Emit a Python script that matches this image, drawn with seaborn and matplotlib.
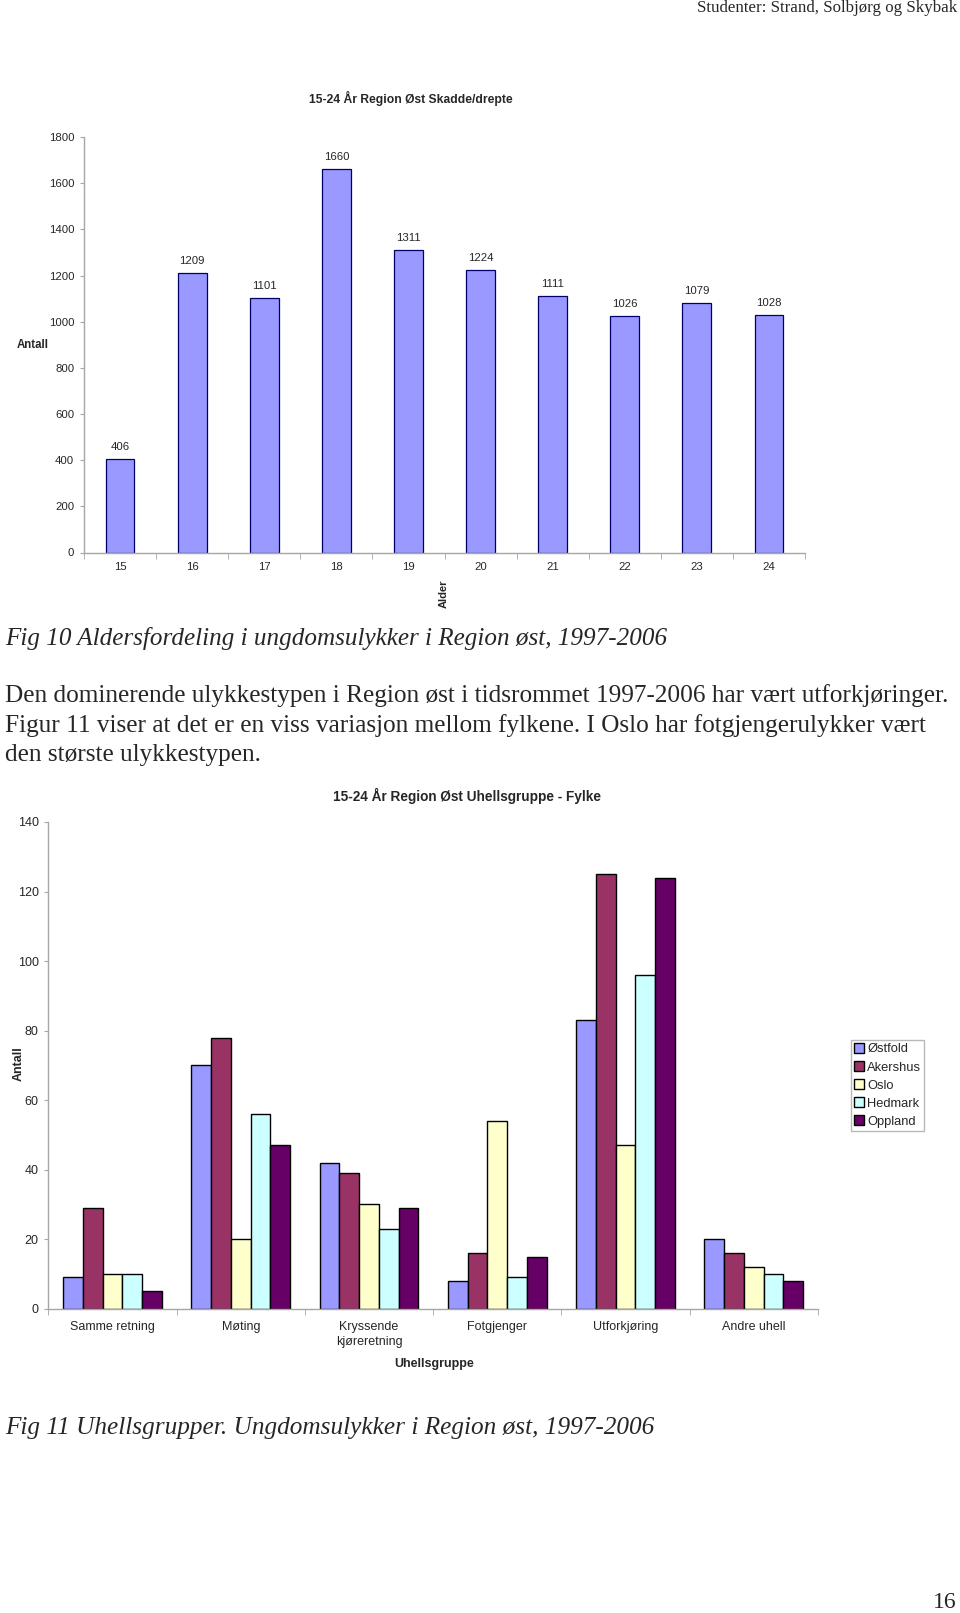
import numpy as np
import pandas as pd
import matplotlib.pyplot as plt
import seaborn as sns
from matplotlib.patches import Patch
from matplotlib.ticker import FixedLocator

# Fig 10 data: injured/killed per age
ages = ['15', '16', '17', '18', '19', '20', '21', '22', '23', '24']
injured = [406, 1209, 1101, 1660, 1311, 1224, 1111, 1026, 1079, 1028]

# Fig 11 data: accident group per county
groups = ['Samme retning', 'Møting', 'Kryssende\nkjøreretning', 'Fotgjenger', 'Utforkjøring', 'Andre uhell']
counties = ['Østfold', 'Akershus', 'Oslo', 'Hedmark', 'Oppland']
ostfold = [9, 70, 42, 8, 83, 20]
akershus = [29, 78, 39, 16, 125, 16]
oslo = [10, 20, 30, 54, 47, 12]
hedmark = [10, 56, 23, 9, 96, 10]
oppland = [5, 47, 29, 15, 124, 8]
county_colors = ['#9999FF', '#993366', '#FFFFCC', '#CCFFFF', '#660066']

sns.set_style('ticks')
plt.rcParams['font.family'] = ['Liberation Sans', 'DejaVu Sans']

W, H = 960, 1613
fig = plt.figure(figsize=(W / 100, H / 100), dpi=100)
AXIS_GREY = '#A6A6A6'
SERIF = ['Liberation Serif', 'DejaVu Serif']


def px_axes(left, top, right, bottom):
    return fig.add_axes([left / W, 1 - bottom / H, (right - left) / W, (bottom - top) / H])


def excel_style(ax, n, fs, xpad=7):
    sns.despine(ax=ax)
    for side in ['left', 'bottom']:
        ax.spines[side].set_color(AXIS_GREY)
        ax.spines[side].set_linewidth(1)
    ax.set_xlim(-0.5, n - 0.5)
    ax.xaxis.set_minor_locator(FixedLocator(np.arange(-0.5, n, 1)))
    ax.tick_params(axis='x', which='major', length=0, pad=xpad, labelsize=fs)
    ax.tick_params(axis='x', which='minor', length=4, color=AXIS_GREY)
    ax.tick_params(axis='y', length=3, color=AXIS_GREY, pad=4, labelsize=fs)
    ax.set_xlabel('')
    ax.set_ylabel('')


# ---------------- Fig 10 ----------------
ax1 = px_axes(84, 137, 805, 552.5)
df1 = pd.DataFrame({'Alder': ages, 'Antall': injured})
sns.barplot(data=df1, x='Alder', y='Antall', color='#9999FF', saturation=1,
            edgecolor='#000066', linewidth=0.9, width=0.4, ax=ax1)
ax1.set_ylim(0, 1800)
ax1.set_yticks(range(0, 1801, 200))
excel_style(ax1, len(ages), 8.2)
ax1.bar_label(ax1.containers[0], padding=5, fontsize=8.2)

fig.text(411 / W, 1 - 98 / H, '15-24 År Region Øst Skadde/drepte', ha='center', va='center',
         fontsize=8.7, fontweight='bold')
fig.text(33 / W, 1 - 345 / H, 'Antall', ha='center', va='center', fontsize=8.3, fontweight='bold')
fig.text(444 / W, 1 - 594 / H, 'Alder', ha='center', va='center', rotation=90,
         fontsize=8, fontweight='bold')

# ---------------- text ----------------
fig.text(957 / W, 1 - 8 / H, 'Studenter: Strand, Solbjørg og Skybak', ha='right', va='center',
         fontsize=12.2, family=SERIF)
fig.text(5 / W, 1 - 638 / H, 'Fig 10 Aldersfordeling i ungdomsulykker i Region øst, 1997-2006',
         ha='left', va='center', fontsize=18.1, style='italic', family=SERIF)
para = ['Den dominerende ulykkestypen i Region øst i tidsrommet 1997-2006 har vært utforkjøringer.',
        'Figur 11 viser at det er en viss variasjon mellom fylkene. I Oslo har fotgjengerulykker vært',
        'den største ulykkestypen.']
for i, line in enumerate(para):
    fig.text(5 / W, 1 - (696 + 29.5 * i) / H, line, ha='left', va='center', fontsize=18.2, family=SERIF)
fig.text(5 / W, 1 - 1428 / H, 'Fig 11 Uhellsgrupper. Ungdomsulykker i Region øst, 1997-2006',
         ha='left', va='center', fontsize=18.2, style='italic', family=SERIF)
fig.text(957 / W, 1 - 1602 / H, '16', ha='right', va='center', fontsize=17, family=SERIF)

# ---------------- Fig 11 ----------------
ax2 = px_axes(48.4, 822, 818, 1308.7)
df2 = pd.DataFrame({'Uhellsgruppe': groups * 5,
                    'Fylke': np.repeat(counties, len(groups)),
                    'Antall': ostfold + akershus + oslo + hedmark + oppland})
sns.barplot(data=df2, x='Uhellsgruppe', y='Antall', hue='Fylke', palette=county_colors,
            saturation=1, edgecolor='black', linewidth=1, width=0.77, gap=0,
            legend=False, ax=ax2)
ax2.set_ylim(0, 140)
ax2.set_yticks(range(0, 141, 20))
excel_style(ax2, len(groups), 9, xpad=9)
for lbl in ax2.get_xticklabels():
    lbl.set_linespacing(1.35)

fig.text(467 / W, 1 - 796 / H, '15-24 År Region Øst Uhellsgruppe - Fylke', ha='center', va='center',
         fontsize=9.8, fontweight='bold')
fig.text(18.5 / W, 1 - 1064 / H, 'Antall', ha='center', va='center', rotation=90,
         fontsize=9, fontweight='bold')
fig.text(434 / W, 1 - 1364 / H, 'Uhellsgruppe', ha='center', va='center', fontsize=9, fontweight='bold')

handles = [Patch(facecolor=c, edgecolor='black', linewidth=1) for c in county_colors]
leg = fig.legend(handles, counties, loc='upper left', bbox_to_anchor=(851 / W, 1 - 1040 / H),
                 fontsize=9.3, frameon=True, fancybox=False, handlelength=0.75, handleheight=0.75,
                 handletextpad=0.25, labelspacing=0.45, borderpad=0.25, borderaxespad=0)
leg.get_frame().set_edgecolor(AXIS_GREY)
leg.get_frame().set_linewidth(1)

fig.savefig('out.png', dpi=100, facecolor='white')
